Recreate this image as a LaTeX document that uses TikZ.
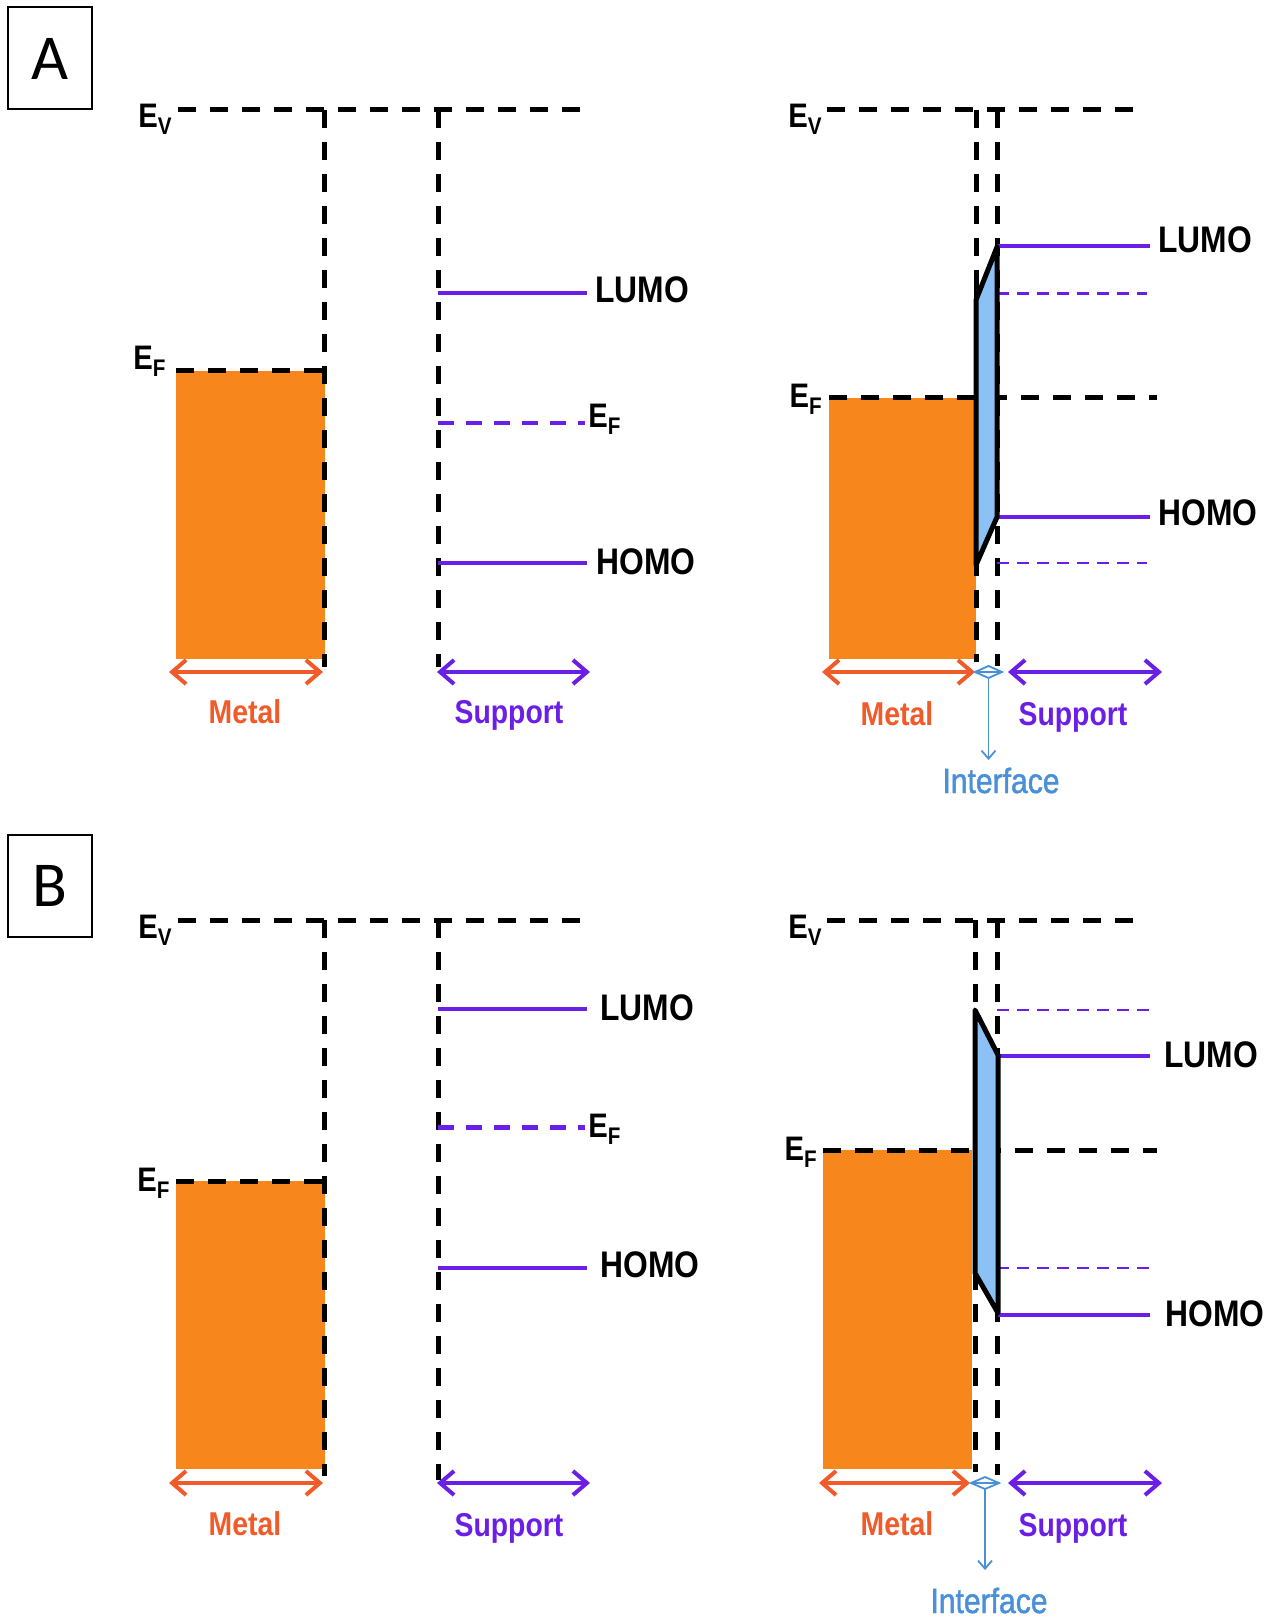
\documentclass[tikz,border=0pt]{standalone}
\usepackage{fontspec}
\usetikzlibrary{arrows.meta}
\newfontfamily\lblfont{Liberation Sans Bold}[FakeStretch=0.86]
\newfontfamily\ifcfont{Liberation Sans}[FakeStretch=0.86, FakeBold=1.3]
\newfontfamily\panelfont{Carlito}
\definecolor{metalfill}{HTML}{F7861C}
\definecolor{metalred}{HTML}{F15A29}
\definecolor{supp}{HTML}{6B1FE6}
\definecolor{iface}{HTML}{4A90D9}
\definecolor{ifacefill}{HTML}{8CC1F5}
\newcommand{\Elbl}[1]{E\raisebox{-3.5pt}{\fontsize{12}{12}\selectfont #1}}
\tikzset{
  level/.style={draw=black, line width=2.5pt, dash pattern=on 9pt off 7pt},
  orbline/.style={draw=supp, line width=2pt},
  orbdash/.style={draw=supp, line width=2.2pt, dash pattern=on 8pt off 6pt},
  olddash/.style={draw=supp, line width=1.3pt, dash pattern=on 6pt off 4pt},
  band/.style={fill=metalfill},
  barrier/.style={fill=ifacefill, draw=black, line width=2.5pt, line join=round},
  barb/.tip={Straight Barb[length=7pt,width=12pt]},
  metalarrow/.style={draw=metalred, line width=2pt, barb-barb},
  supparrow/.style={draw=supp, line width=2pt, barb-barb},
  ifaceline/.style={draw=iface, line width=0.9pt},
  elabel/.style={font=\lblfont\fontsize{17}{17}\selectfont, anchor=base east, inner sep=0pt},
  elabelw/.style={font=\lblfont\fontsize{17}{17}\selectfont, anchor=base west, inner sep=0pt},
  orbital/.style={font=\lblfont\fontsize{18.5}{18.5}\selectfont, anchor=base west, inner sep=0pt},
  regionlbl/.style={font=\lblfont\fontsize{16.5}{16.5}\selectfont, anchor=base, inner sep=0pt},
  ifacelbl/.style={font=\ifcfont\fontsize{17.5}{17.5}\selectfont, text=iface, anchor=base, inner sep=0pt},
  panel/.style={draw=black, line width=1pt, minimum width=42pt, minimum height=51pt, inner sep=0pt,
    font=\panelfont\fontsize{32}{32}\selectfont},
}
\begin{document}
\begin{tikzpicture}[x=0.5pt, y=-0.5pt]
\useasboundingbox[fill=white] (0,0) rectangle (1266,1620);

% ===================== Panel A =====================
\node[panel] (pA) at (50,58.5) {A};

% --- A, separated metal and support ---
\fill[band] (176,371) rectangle (324.5,659);
\draw[level] (178,110) -- (589,110);
\draw[level] (324.5,110) -- (324.5,667);
\draw[level] (438,110) -- (438,667);
\draw[level] (176,371) -- (324.5,371);
\draw[orbline] (438,293.5) -- (587,293.5);
\draw[orbdash] (438,423) -- (585,423);
\draw[orbline] (438,563) -- (587,563);
\node[elabel] (evA1) at (172,128) {\Elbl{V}};
\node[elabel] (efA1) at (166,370) {\Elbl{F}};
\node[orbital] (lumoA1) at (595,303) {LUMO};
\node[elabelw] (efsA1) at (588,428) {\Elbl{F}};
\node[orbital] (homoA1) at (596,574) {HOMO};
\coordinate (mlA1) at (169,672); \coordinate (mrA1) at (323,672);
\coordinate (slA1) at (437,672); \coordinate (srA1) at (590,672);
\draw[metalarrow] (mlA1) -- (mrA1);
\draw[supparrow] (slA1) -- (srA1);
\node[regionlbl, text=metalred] (metA1) at (245,723) {Metal};
\node[regionlbl, text=supp] (supA1) at (509,723) {Support};

% --- A, metal in contact with support ---
\fill[band] (829,398) rectangle (976,659);
\draw[level] (827,110) -- (1145,110);
\draw[level] (976,110) -- (976,662);
\draw[level] (997,110) -- (997,666);
\draw[level] (829,398) -- (1157,398);
\draw[orbline] (997,246) -- (1150,246);
\draw[olddash] (997,293.5) -- (1147,293.5);
\draw[orbline] (997,517) -- (1150,517);
\draw[olddash] (997,563) -- (1147,563);
\draw[barrier] (976,300) -- (997,247) -- (997,517) -- (976,565) -- cycle;
\draw[black, line width=2.5pt] (976,300) -- (976,288);
\node[elabel] (evA2) at (822,128) {\Elbl{V}};
\node[elabel] (efA2) at (822,408) {\Elbl{F}};
\node[orbital] (lumoA2) at (1158,253) {LUMO};
\node[orbital] (homoA2) at (1158,525) {HOMO};
\coordinate (mlA2) at (822,672); \coordinate (mrA2) at (975,672);
\coordinate (slA2) at (1008,672); \coordinate (srA2) at (1162,672);
\coordinate (ilA2) at (975,672); \coordinate (itA2) at (988.5,666);
\coordinate (irA2) at (1002,672); \coordinate (ibA2) at (988.5,678);
\coordinate (iendA2) at (988.5,760);
\draw[metalarrow] (mlA2) -- (mrA2);
\draw[supparrow] (slA2) -- (srA2);
\draw[ifaceline] (ilA2) -- (itA2) -- (irA2) -- (ibA2) -- cycle;
\draw[ifaceline] (ilA2) -- (irA2);
\draw[ifaceline, -{Straight Barb[length=4pt,width=7pt]}] (ibA2) -- (iendA2);
\node[regionlbl, text=metalred] (metA2) at (897,725) {Metal};
\node[regionlbl, text=supp] (supA2) at (1073,725) {Support};
\node[ifacelbl] (ifA2) at (1001,793) {Interface};

% ===================== Panel B =====================
\node[panel] (pB) at (50,885.5) {B};

% --- B, separated metal and support ---
\fill[band] (176,1181) rectangle (324.5,1469);
\draw[level] (178,920) -- (589,920);
\draw[level] (324.5,920) -- (324.5,1476);
\draw[level] (438,920) -- (438,1480);
\draw[level] (176,1181) -- (324.5,1181);
\draw[orbline] (438,1009) -- (587,1009);
\draw[orbdash] (438,1127.5) -- (585,1127.5);
\draw[orbline] (438,1268) -- (587,1268);
\node[elabel] (evB1) at (172,938) {\Elbl{V}};
\node[elabel] (efB1) at (170,1191) {\Elbl{F}};
\node[orbital] (lumoB1) at (600,1020) {LUMO};
\node[elabelw] (efsB1) at (588,1137) {\Elbl{F}};
\node[orbital] (homoB1) at (600,1277) {HOMO};
\coordinate (mlB1) at (169,1483); \coordinate (mrB1) at (323,1483);
\coordinate (slB1) at (437,1483); \coordinate (srB1) at (590,1483);
\draw[metalarrow] (mlB1) -- (mrB1);
\draw[supparrow] (slB1) -- (srB1);
\node[regionlbl, text=metalred] (metB1) at (245,1535) {Metal};
\node[regionlbl, text=supp] (supB1) at (509,1536) {Support};

% --- B, metal in contact with support ---
\fill[band] (823,1150) rectangle (972,1469);
\draw[level] (827,920) -- (1145,920);
\draw[level] (975,920) -- (975,1472);
\draw[level] (997,920) -- (997,1475);
\draw[level] (823,1150) -- (1157,1150);
\draw[olddash] (997,1010) -- (1149,1010);
\draw[orbline] (998,1056) -- (1150,1056);
\draw[olddash] (997,1268) -- (1149,1268);
\draw[orbline] (998,1315) -- (1150,1315);
\draw[barrier] (975,1010) -- (998,1055) -- (998,1313) -- (975,1273) -- cycle;
\node[elabel] (evB2) at (822,938) {\Elbl{V}};
\node[elabel] (efB2) at (817,1160) {\Elbl{F}};
\node[orbital] (lumoB2) at (1164,1067) {LUMO};
\node[orbital] (homoB2) at (1165,1326) {HOMO};
\coordinate (mlB2) at (819,1483); \coordinate (mrB2) at (970,1483);
\coordinate (slB2) at (1008,1483); \coordinate (srB2) at (1162,1483);
\coordinate (ilB2) at (971,1483); \coordinate (itB2) at (985,1477);
\coordinate (irB2) at (999,1483); \coordinate (ibB2) at (985,1489);
\coordinate (iendB2) at (985,1570);
\draw[metalarrow] (mlB2) -- (mrB2);
\draw[supparrow] (slB2) -- (srB2);
\draw[ifaceline] (ilB2) -- (itB2) -- (irB2) -- (ibB2) -- cycle;
\draw[ifaceline] (ilB2) -- (irB2);
\draw[ifaceline, -{Straight Barb[length=4pt,width=7pt]}] (ibB2) -- (iendB2);
\node[regionlbl, text=metalred] (metB2) at (897,1535) {Metal};
\node[regionlbl, text=supp] (supB2) at (1073,1536) {Support};
\node[ifacelbl] (ifB2) at (989,1613) {Interface};
\end{tikzpicture}
\end{document}
